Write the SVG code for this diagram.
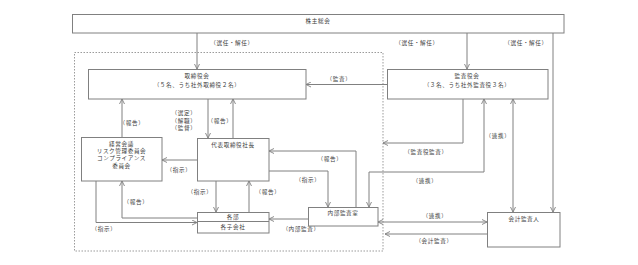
<svg xmlns="http://www.w3.org/2000/svg" width="638" height="265" viewBox="0 0 638 265">
<defs>
<style>
.box{fill:#fff;stroke:#808080;stroke-width:1}
.ln{fill:none;stroke:#808080;stroke-width:1}
text{font-family:"Noto Sans CJK JP","Noto Sans CJK SC",sans-serif;font-size:5.6px;letter-spacing:0.6px;fill:#3a3a3a;text-anchor:middle;dominant-baseline:central}
</style>
<marker id="ah" viewBox="0 0 6 6" refX="5.5" refY="3" markerWidth="6" markerHeight="6" markerUnits="userSpaceOnUse" orient="auto-start-reverse">
<path d="M0.5,0.5 L5.5,3 L0.5,5.5" fill="none" stroke="#808080" stroke-width="0.9"/>
</marker>
</defs>
<rect width="638" height="265" fill="#fff"/>
<rect id="group-border" x="74.5" y="52.5" width="308.5" height="198.5" fill="none" stroke="#909090" stroke-width="0.9" stroke-dasharray="1.5,1.5"/>
<g id="connectors">
<path class="ln" d="M197,33 V69" marker-end="url(#ah)"/>
<path class="ln" d="M467,33 V69" marker-end="url(#ah)"/>
<path class="ln" d="M553,33 V212" marker-end="url(#ah)"/>
<path class="ln" d="M387,84.5 H306" marker-end="url(#ah)"/>
<path class="ln" d="M122,137 V99" marker-end="url(#ah)"/>
<path class="ln" d="M208,99 V138" marker-end="url(#ah)"/>
<path class="ln" d="M233,138 V99" marker-end="url(#ah)"/>
<path class="ln" d="M197,160 H162" marker-end="url(#ah)"/>
<path class="ln" d="M216,181 V212" marker-end="url(#ah)"/>
<path class="ln" d="M249,212 V181" marker-end="url(#ah)"/>
<path class="ln" d="M197,218 H122 V181" marker-end="url(#ah)"/>
<path class="ln" d="M96,181 V222.5 H197" marker-end="url(#ah)"/>
<path class="ln" d="M308,219 H269" marker-end="url(#ah)"/>
<path class="ln" d="M356,207 V151 H269" marker-end="url(#ah)"/>
<path class="ln" d="M269,171 H328 V207" marker-end="url(#ah)"/>
<path class="ln" d="M463,99 V143 H383" marker-end="url(#ah)"/>
<path class="ln" d="M484,99 V172 H369 V207" marker-start="url(#ah)" marker-end="url(#ah)"/>
<path class="ln" d="M513,99 V212" marker-start="url(#ah)" marker-end="url(#ah)"/>
<path class="ln" d="M378,222 H487" marker-start="url(#ah)" marker-end="url(#ah)"/>
<path class="ln" d="M487,234 H385" marker-end="url(#ah)"/>
<text x="232" y="43">（選任・解任）</text>
<text x="417" y="43">（選任・解任）</text>
<text x="526" y="43">（選任・解任）</text>
<text x="339" y="79">（監査）</text>
<text x="132" y="123">（報告）</text>
<text x="184" y="113">（選定）</text>
<text x="184" y="120.5">（解職）</text>
<text x="184" y="128">（監督）</text>
<text x="220" y="121">（報告）</text>
<text x="179" y="170">（指示）</text>
<text x="200" y="192">（指示）</text>
<text x="268" y="192">（報告）</text>
<text x="136" y="202">（報告）</text>
<text x="104" y="229">（指示）</text>
<text x="301" y="229">（内部監査）</text>
<text x="330" y="159">（報告）</text>
<text x="308" y="180">（指示）</text>
<text x="426" y="152">（監査役監査）</text>
<text x="425" y="181">（連携）</text>
<text x="498" y="136">（連携）</text>
<text x="435" y="216">（連携）</text>
<text x="434" y="241">（会計監査）</text>
</g>
<g id="node-shareholders">
<rect class="box" x="72.5" y="14.5" width="491.5" height="18.5"/>
<text x="318" y="21" letter-spacing="1.5">株主総会</text>
</g>
<g id="node-board">
<rect class="box" x="88.5" y="69.5" width="217.5" height="29.5"/>
<text x="197" y="76">取締役会</text>
<text x="197" y="84.5">（５名、うち社外取締役２名）</text>
</g>
<g id="node-auditors">
<rect class="box" x="387.5" y="69.5" width="160.5" height="29.5"/>
<text x="467" y="76">監査役会</text>
<text x="467" y="84.5">（３名、うち社外監査役３名）</text>
</g>
<g id="node-management">
<rect class="box" x="81.5" y="137.5" width="80.5" height="43.5"/>
<text x="121.5" y="144">経営会議</text>
<text x="121.5" y="151">リスク管理委員会</text>
<text x="121.5" y="158">コンプライアンス</text>
<text x="121.5" y="165.5">委員会</text>
</g>
<g id="node-president">
<rect class="box" x="197.5" y="138.5" width="71.5" height="42.5"/>
<text x="233" y="145">代表取締役社長</text>
</g>
<g id="node-departments">
<rect class="box" x="197.5" y="212.5" width="71.5" height="20.5"/>
<line class="ln" x1="197.5" y1="221.5" x2="269" y2="221.5"/>
<text x="233" y="216.8">各部</text>
<text x="233" y="227">各子会社</text>
</g>
<g id="node-internal-audit">
<rect class="box" x="308.5" y="207.5" width="69.5" height="18.5"/>
<text x="343" y="213">内部監査室</text>
</g>
<g id="node-accounting-auditor">
<rect class="box" x="487.5" y="212.5" width="72.5" height="34.5"/>
<text x="524" y="218.5">会計監査人</text>
</g>
</svg>
